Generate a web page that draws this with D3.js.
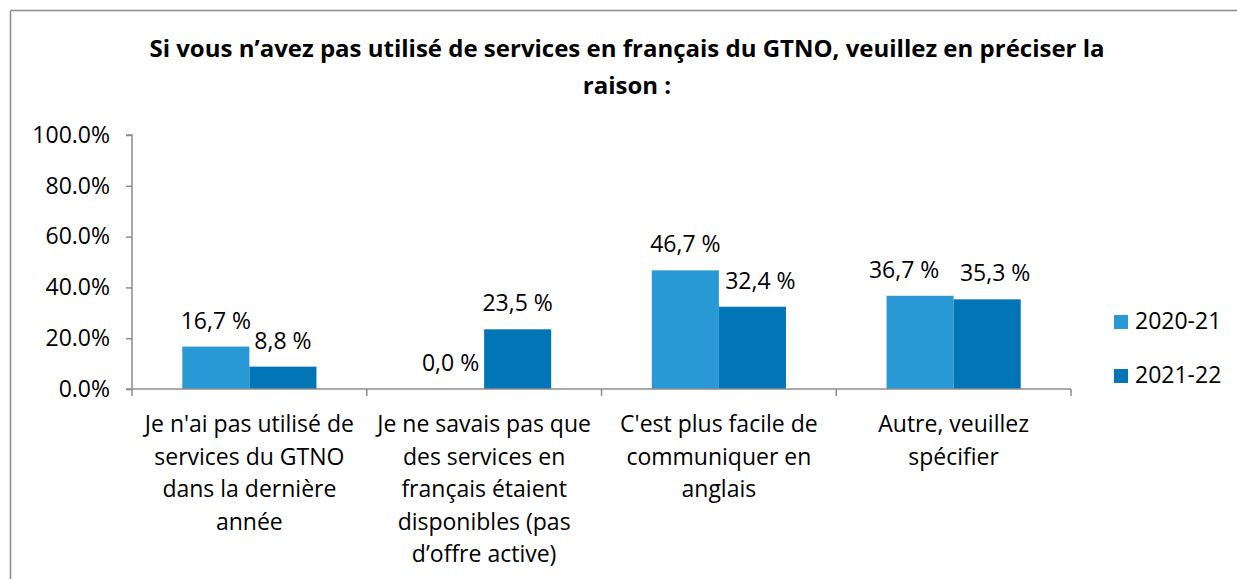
<!DOCTYPE html>
<html>
<head>
<meta charset="utf-8">
<script src="https://cdn.jsdelivr.net/npm/d3@7"></script>
<style>
  body { margin: 0; background: #fff; }
  svg { display: block; font-family: "Open Sans", Lato, sans-serif; }
</style>
</head>
<body>
<div id="chart"></div>
<script>
// data
var categories = [
    ["Je n'ai pas utilisé de", "services du GTNO", "dans la dernière", "année"],
    ["Je ne savais pas que", "des services en", "français étaient", "disponibles (pas", "d\u2019offre active)"],
    ["C'est plus facile de", "communiquer en", "anglais"],
    ["Autre, veuillez", "spécifier"]
];
var series = ["2020-21", "2021-22"];
var values2021 = [16.7, 0.0, 46.7, 36.7];
var values2122 = [8.8, 23.5, 32.4, 35.3];
var yTicks = [0, 20, 40, 60, 80, 100];
var colors = ["#2899d5", "#0175b6"];

var W = 1237, H = 579;
var fs = "23px";
var margin = {top: 135, left: 132};
var width = 1071 - margin.left,
    height = 389 - margin.top;

// small sideways nudges of the value labels so neighbours don't collide
var nudge = [[0, 0], [0, 0], [0, 8], [-16, 8]];

var svg = d3.select("#chart").append("svg")
    .attr("width", W)
    .attr("height", H);

// chart frame (only top and left visible in the crop)
svg.append("line").attr("x1", 10.5).attr("x2", W).attr("y1", 10.5).attr("y2", 10.5)
    .attr("stroke", "#8c8c8c").attr("stroke-width", 1.5);
svg.append("line").attr("x1", 10.5).attr("x2", 10.5).attr("y1", 10.5).attr("y2", H)
    .attr("stroke", "#8c8c8c").attr("stroke-width", 1.5);

// title
var title = svg.append("text")
    .attr("text-anchor", "middle")
    .attr("font-weight", "bold")
    .attr("font-size", "24px")
    .attr("fill", "#000");
title.append("tspan").attr("x", 627).attr("y", 57)
    .text("Si vous n\u2019avez pas utilisé de services en français du GTNO, veuillez en préciser la");
title.append("tspan").attr("x", 627).attr("y", 94).text("raison :");

var g = svg.append("g")
    .attr("transform", "translate(" + margin.left + "," + margin.top + ")");

var x0 = d3.scaleBand()
    .domain(d3.range(categories.length))
    .range([0, width]);

var x1 = d3.scaleBand()
    .domain(series)
    .range([0, x0.bandwidth()])
    .paddingOuter(0.75);

var y = d3.scaleLinear().domain([0, 100]).range([height, 0]);

// y axis
var yAxis = g.append("g")
    .call(d3.axisLeft(y).tickValues(yTicks).tickSize(6).tickPadding(16)
        .tickFormat(function (d) { return d.toFixed(1) + "%"; }));
yAxis.selectAll("text").attr("font-size", fs).attr("fill", "#000")
    .attr("font-family", "'Open Sans', Lato, sans-serif");
yAxis.selectAll("line").attr("stroke", "#8c8c8c").attr("stroke-width", 1.5);
yAxis.select(".domain").attr("stroke", "#8c8c8c").attr("stroke-width", 1.5)
    .attr("d", "M-6," + height + "H0V0H-6");

// bars
var rows = categories.map(function (c, i) {
    return [
        {cat: i, k: 0, s: series[0], v: values2021[i], c: colors[0]},
        {cat: i, k: 1, s: series[1], v: values2122[i], c: colors[1]}
    ];
});

var groups = g.selectAll(".grp").data(rows).enter().append("g")
    .attr("class", "grp")
    .attr("transform", function (d, i) { return "translate(" + x0(i) + ",0)"; });

groups.selectAll("rect").data(function (d) { return d; }).enter().append("rect")
    .attr("x", function (d) { return x1(d.s); })
    .attr("y", function (d) { return y(d.v); })
    .attr("width", x1.bandwidth())
    .attr("height", function (d) { return height - y(d.v); })
    .attr("fill", function (d) { return d.c; });

groups.selectAll(".lbl").data(function (d) { return d; }).enter().append("text")
    .attr("class", "lbl")
    .attr("text-anchor", "middle")
    .attr("font-size", fs)
    .attr("fill", "#000")
    .attr("x", function (d) { return x1(d.s) + x1.bandwidth() / 2 + nudge[d.cat][d.k]; })
    .attr("y", function (d) { return y(d.v) - 18; })
    .text(function (d) { return d.v.toFixed(1).replace(".", ",") + " %"; });

// x axis
var xAxis = g.append("g")
    .attr("transform", "translate(0," + height + ")");
xAxis.append("line").attr("x1", 0).attr("x2", width)
    .attr("stroke", "#8c8c8c").attr("stroke-width", 1.5);
xAxis.selectAll(".tk").data(d3.range(categories.length + 1)).enter().append("line")
    .attr("x1", function (d) { return d * x0.step(); })
    .attr("x2", function (d) { return d * x0.step(); })
    .attr("y1", 0).attr("y2", 7)
    .attr("stroke", "#8c8c8c").attr("stroke-width", 1.5);

xAxis.selectAll(".cat").data(categories).enter().append("text")
    .attr("class", "cat")
    .attr("text-anchor", "middle")
    .attr("font-size", fs)
    .attr("fill", "#000")
    .each(function (lines, i) {
        var t = d3.select(this);
        lines.forEach(function (l, k) {
            t.append("tspan")
                .attr("x", x0(i) + x0.bandwidth() / 2)
                .attr("y", 43 + k * 32.5)
                .text(l);
        });
    });

// legend
var legend = svg.selectAll(".leg").data(series).enter().append("g")
    .attr("class", "leg")
    .attr("transform", function (d, i) { return "translate(1114," + (315 + i * 54) + ")"; });
legend.append("rect").attr("width", 14).attr("height", 14)
    .attr("fill", function (d, i) { return colors[i]; });
legend.append("text").attr("x", 21).attr("y", 14)
    .attr("font-size", fs).attr("fill", "#000")
    .text(function (d) { return d; });
</script>
</body>
</html>
